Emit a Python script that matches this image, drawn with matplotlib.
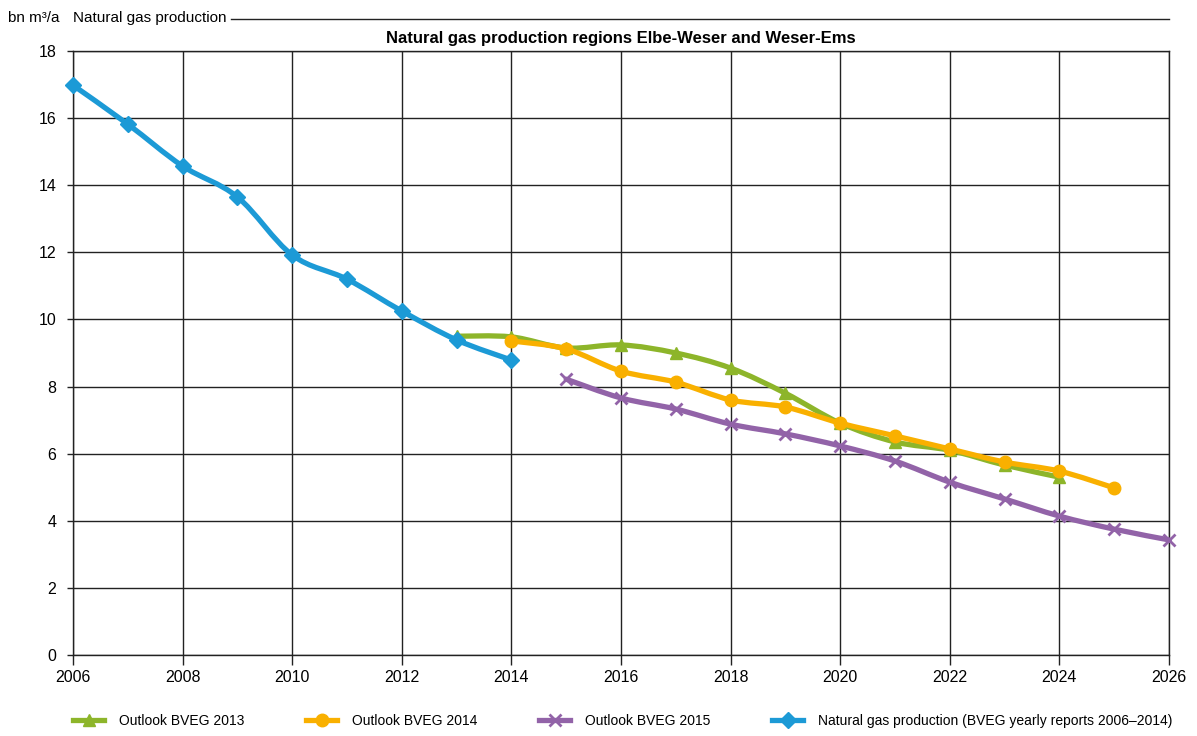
import matplotlib
matplotlib.use("Agg")
import matplotlib.pyplot as plt
from matplotlib.path import Path
from matplotlib.patches import PathPatch
from matplotlib.lines import Line2D

plt.rcParams['font.family'] = ['Liberation Sans', 'DejaVu Sans']

years_hist = [2006, 2007, 2008, 2009, 2010, 2011, 2012, 2013, 2014]
prod_hist = [16.98, 15.82, 14.57, 13.65, 11.92, 11.2, 10.25, 9.39, 8.79]

years_2013 = list(range(2013, 2025))
outlook_2013 = [9.5, 9.48, 9.15, 9.24, 9.0, 8.55, 7.8, 6.91, 6.35, 6.1, 5.66, 5.3]

years_2014 = list(range(2014, 2026))
outlook_2014 = [9.36, 9.12, 8.46, 8.13, 7.6, 7.39, 6.91, 6.53, 6.14, 5.75, 5.48, 4.98]

years_2015 = list(range(2015, 2027))
outlook_2015 = [8.22, 7.66, 7.33, 6.88, 6.59, 6.23, 5.78, 5.15, 4.65, 4.14, 3.75, 3.43]

green = '#8db52a'
orange = '#f9b000'
purple = '#9263a8'
blue = '#1c9ad6'
ink = '#222222'


def smooth_path(xs, ys):
    # catmull-rom through the points, as bezier segments (like excel "smoothed line")
    pts = list(zip(xs, ys))
    verts = [pts[0]]
    codes = [Path.MOVETO]
    n = len(pts)
    for i in range(n - 1):
        p0 = pts[max(i - 1, 0)]
        p1 = pts[i]
        p2 = pts[i + 1]
        p3 = pts[min(i + 2, n - 1)]
        c1 = (p1[0] + (p2[0] - p0[0]) / 6, p1[1] + (p2[1] - p0[1]) / 6)
        c2 = (p2[0] - (p3[0] - p1[0]) / 6, p2[1] - (p3[1] - p1[1]) / 6)
        verts += [c1, c2, p2]
        codes += [Path.CURVE4] * 3
    return Path(verts, codes)


fig = plt.figure(figsize=(11.97, 7.36), dpi=100)
ax = fig.add_axes([73 / 1197, 1 - 655 / 736, (1169 - 73) / 1197, (655 - 51) / 736])

lw = 3.8
series = [
    (years_2013, outlook_2013, green, '^', 8, 1, 'Outlook BVEG 2013', 3),
    (years_2014, outlook_2014, orange, 'o', 9, 1, 'Outlook BVEG 2014', 4),
    (years_2015, outlook_2015, purple, 'x', 9, 2, 'Outlook BVEG 2015', 3),
    (years_hist, prod_hist, blue, 'D', 8, 1,
     'Natural gas production (BVEG yearly reports 2006\u20132014)', 5),
]
handles = []
for xs, ys, c, m, ms, mew, lab, z in series:
    ax.add_patch(PathPatch(smooth_path(xs, ys), facecolor='none', edgecolor=c,
                           lw=lw, capstyle='round', joinstyle='round', zorder=z,
                           clip_on=False))
    ax.plot(xs, ys, ls='none', marker=m, ms=ms, mew=mew, color=c, zorder=z,
            clip_on=False)
    handles.append(Line2D([], [], color=c, lw=lw, marker=m, ms=ms, mew=mew, label=lab))

ax.set_xlim(2006, 2026)
ax.set_ylim(0, 18)
ax.set_xticks(range(2006, 2027, 2))
ax.set_yticks(range(0, 19, 2))
ax.grid(True, color=ink, lw=1)
for s in ax.spines.values():
    s.set_color(ink)
    s.set_linewidth(1)
ax.tick_params(axis='x', length=7, width=1, color=ink, labelsize=11.5, pad=4)
ax.tick_params(axis='y', length=4, width=1, color=ink, labelsize=11.5, pad=8)

ax.set_title('Natural gas production regions Elbe-Weser and Weser-Ems',
             fontsize=12, fontweight='bold', pad=6)

fig.text(8 / 1197, 1 - 18 / 736, 'bn m\u00b3/a', fontsize=11, va='center', ha='left')
fig.text(73 / 1197, 1 - 18 / 736, 'Natural gas production', fontsize=11,
         va='center', ha='left')
fig.add_artist(Line2D([231 / 1197, 1169 / 1197], [1 - 19 / 736, 1 - 19 / 736],
                      color=ink, lw=1))

fig.legend(handles=handles, loc='center', bbox_to_anchor=(623 / 1197, 1 - 721 / 736),
           ncol=4, frameon=False, fontsize=10, handlelength=2.2, columnspacing=4.45,
           handletextpad=1.1, borderpad=0)

fig.savefig('out.png', dpi=100)
